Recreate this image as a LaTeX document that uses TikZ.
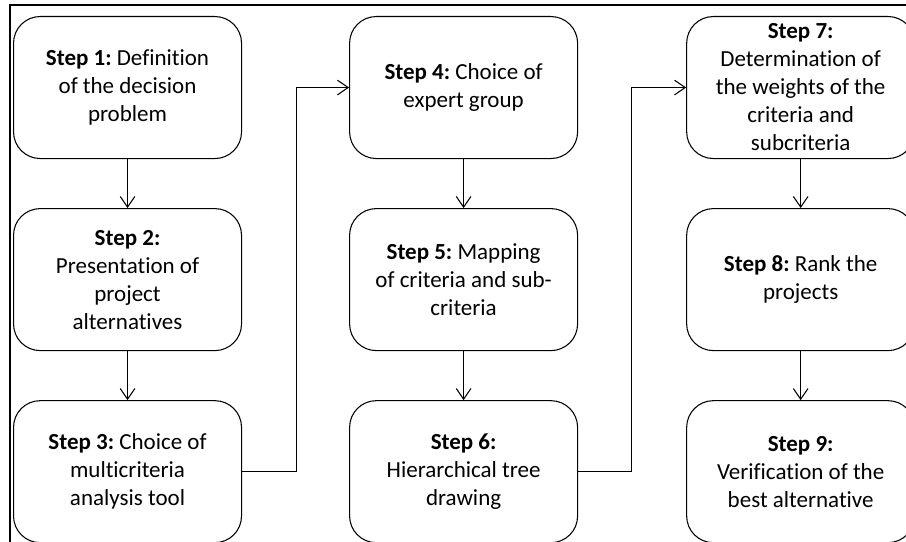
\documentclass[tikz,border=0pt]{standalone}
\usepackage{fontspec}
\setmainfont{Carlito}[Ligatures=NoCommon]
\usepackage{tikz}
\usetikzlibrary{
    positioning,
    arrows.meta,
}
\tikzset{
    % Node styles
    stepbox/.style={rectangle, draw, line width=0.8pt, rounded corners=20pt,
                    minimum width=171pt, minimum height=106.5pt, inner sep=0pt,
                    align=center, font=\fontsize{17.25pt}{21pt}\selectfont\frenchspacing},
    % Arrow styles
    flow/.style={-{Straight Barb[length=8pt, width=11pt]}, line width=0.8pt},
    frame/.style={line width=1.2pt},
}

\begin{document}
\begin{tikzpicture}[
    node distance=36.75pt and 80.25pt,
]
    \useasboundingbox (0,0) rectangle (679.5pt,-406.5pt);
    \clip (0,0) rectangle (679.5pt,-406.5pt);

    % Outer frame
    \draw[frame] (7.5pt,-3.75pt) rectangle (700pt,-430pt);

    % First column
    \node[stepbox, anchor=north west] (s1) at (9.75pt,-12pt)
        {\textbf{Step 1:} Definition\\ of the decision\\ problem};
    \node[stepbox, below=of s1] (s2)
        {\textbf{Step 2:}\\ Presentation of\\ project\\ alternatives};
    \node[stepbox, below=of s2] (s3)
        {\textbf{Step 3:} Choice of\\ multicriteria\\ analysis tool};

    % Second column
    \node[stepbox, right=of s1] (s4)
        {\textbf{Step 4:} Choice of\\ expert group};
    \node[stepbox, below=of s4] (s5)
        {\textbf{Step 5:} Mapping\\ of criteria and sub-\\ criteria};
    \node[stepbox, below=of s5] (s6)
        {\textbf{Step 6:}\\ Hierarchical tree\\ drawing};

    % Third column
    \node[stepbox, right=81pt of s4] (s7)
        {\textbf{Step 7:}\\ Determination of\\ the weights of the\\ criteria and\\ subcriteria};
    \node[stepbox, below=of s7] (s8)
        {\textbf{Step 8:} Rank the\\ projects};
    \node[stepbox, below=of s8] (s9)
        {\textbf{Step 9:}\\ Verification of the\\ best alternative};

    % Connectors
    \draw[flow] (s1) -- (s2);
    \draw[flow] (s2) -- (s3);
    \draw[flow] (s3.east) -- ++(40.5pt,0) |- (s4.west);
    \draw[flow] (s4) -- (s5);
    \draw[flow] (s5) -- (s6);
    \draw[flow] (s6.east) -- ++(40pt,0) |- (s7.west);
    \draw[flow] (s7) -- (s8);
    \draw[flow] (s8) -- (s9);
\end{tikzpicture}
\end{document}
